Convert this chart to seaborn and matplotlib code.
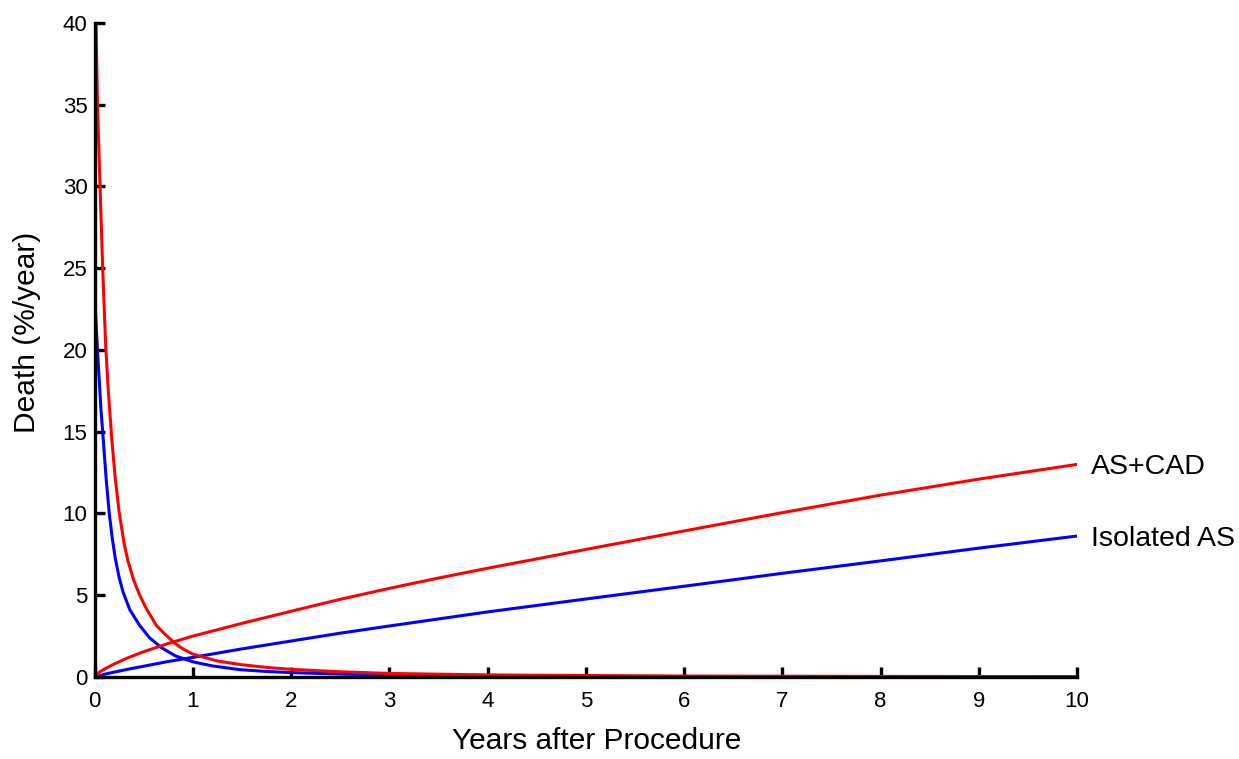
import matplotlib
matplotlib.use("Agg")
import matplotlib.pyplot as plt
import seaborn as sns
import pandas as pd

sns.set_theme(style="ticks")
plt.rcParams['font.family'] = ['Liberation Sans', 'DejaVu Sans']

# ---- data ----
years_label = "Years after Procedure"
death_label = "Death (%/year)"

# Isolated AS : early (decreasing) hazard phase
iso_early_x = [0.0, 0.01, 0.03, 0.066, 0.083, 0.1, 0.12, 0.15, 0.18, 0.21, 0.25, 0.29,
               0.36, 0.46, 0.56, 0.68, 0.82, 1.0, 1.2, 1.48, 1.75, 2.0, 2.5, 3.0,
               4.0, 5.0, 6.0, 8.0, 10.0]
iso_early_y = [24.4, 22.3, 20.0, 16.3, 15.0, 13.6, 12.0, 10.0, 8.5, 7.3, 6.1, 5.2,
               4.1, 3.15, 2.4, 1.8, 1.3, 0.93, 0.68, 0.45, 0.34, 0.27, 0.18, 0.12,
               0.07, 0.05, 0.03, 0.02, 0.01]

# Isolated AS : late (rising) hazard phase
iso_late_x = [0.0, 0.1, 0.2, 0.35, 0.5, 0.75, 1.0, 1.5, 2.0, 2.5, 3.0, 4.0, 5.0,
              6.0, 7.0, 8.0, 9.0, 10.0]
iso_late_y = [0.0, 0.17, 0.30, 0.49, 0.66, 0.95, 1.2, 1.72, 2.2, 2.68, 3.12, 3.98, 4.77,
              5.55, 6.34, 7.1, 7.88, 8.62]

# AS+CAD : early (decreasing) hazard phase
cad_early_x = [0.015, 0.03, 0.056, 0.083, 0.114, 0.14, 0.175, 0.21, 0.25, 0.3, 0.34,
               0.4, 0.46, 0.53, 0.63, 0.72, 0.82, 0.9, 1.0, 1.25, 1.5, 1.75, 2.0,
               2.5, 3.0, 4.0, 5.0, 6.0, 8.0, 10.0]
cad_early_y = [40.0, 35.0, 30.0, 25.0, 20.2, 17.5, 14.6, 12.2, 10.1, 8.2, 7.1,
               5.9, 5.0, 4.15, 3.15, 2.6, 2.05, 1.72, 1.4, 0.98, 0.75, 0.59, 0.47,
               0.32, 0.22, 0.13, 0.09, 0.06, 0.04, 0.02]

# AS+CAD : late (rising) hazard phase
cad_late_x = [0.0, 0.05, 0.1, 0.2, 0.35, 0.5, 0.75, 1.0, 1.5, 2.0, 2.5, 3.0, 3.5,
              4.0, 4.5, 5.0, 6.0, 7.0, 8.0, 9.0, 10.0]
cad_late_y = [0.0, 0.3, 0.48, 0.8, 1.2, 1.55, 2.05, 2.5, 3.28, 4.02, 4.75, 5.42, 6.05,
              6.65, 7.22, 7.8, 8.93, 10.05, 11.12, 12.1, 13.0]

series_names = ["Isolated AS", "AS+CAD"]
series_colors = {"Isolated AS": "#0000FF", "AS+CAD": "#FF0000"}

x_ticks = [0, 1, 2, 3, 4, 5, 6, 7, 8, 9, 10]
y_ticks = [0, 5, 10, 15, 20, 25, 30, 35, 40]

# ---- build tidy table ----
frames = []
for name, phase, xs, ys in [
    ("Isolated AS", "early", iso_early_x, iso_early_y),
    ("Isolated AS", "late", iso_late_x, iso_late_y),
    ("AS+CAD", "early", cad_early_x, cad_early_y),
    ("AS+CAD", "late", cad_late_x, cad_late_y),
]:
    frames.append(pd.DataFrame({"x": xs, "y": ys, "group": name, "phase": phase}))
df = pd.concat(frames, ignore_index=True)

fig = plt.figure(figsize=(12.39, 7.59), dpi=100)
ax = fig.add_axes([0.0763, 0.108, 0.793, 0.862])

for name in series_names:
    for phase in ["early", "late"]:
        sub = df[(df.group == name) & (df.phase == phase)]
        sns.lineplot(data=sub, x="x", y="y", ax=ax, color=series_colors[name],
                     linewidth=2.2, estimator=None, sort=False, legend=False)

ax.set_xlim(0, 10)
ax.set_ylim(0, 40)
ax.set_xticks(x_ticks)
ax.set_yticks(y_ticks)
ax.set_xticklabels([str(t) for t in x_ticks])
ax.set_yticklabels([str(t) for t in y_ticks])

for side in ["top", "right"]:
    ax.spines[side].set_visible(False)
for side in ["left", "bottom"]:
    ax.spines[side].set_linewidth(2.4)
    ax.spines[side].set_color("black")

ax.tick_params(axis="both", direction="in", length=7.5, width=2.4, colors="black",
               labelsize=16)
ax.tick_params(axis="x", pad=10)
ax.tick_params(axis="y", pad=5)

ax.set_xlabel(years_label, fontsize=21.5, color="black")
ax.set_ylabel(death_label, fontsize=21.5, color="black")
ax.xaxis.set_label_coords(0.511, -0.076)
ax.yaxis.set_label_coords(-0.054, 0.527)

ax.annotate("AS+CAD", xy=(cad_late_x[-1], cad_late_y[-1]), xytext=(10, 0),
            textcoords="offset points", va="center_baseline", ha="left",
            fontsize=20.5, color="black", annotation_clip=False)
ax.annotate("Isolated AS", xy=(iso_late_x[-1], iso_late_y[-1]), xytext=(10, 0),
            textcoords="offset points", va="center_baseline", ha="left",
            fontsize=20.5, color="black", annotation_clip=False)

ax.grid(False)
fig.savefig("out.png", dpi=100)
